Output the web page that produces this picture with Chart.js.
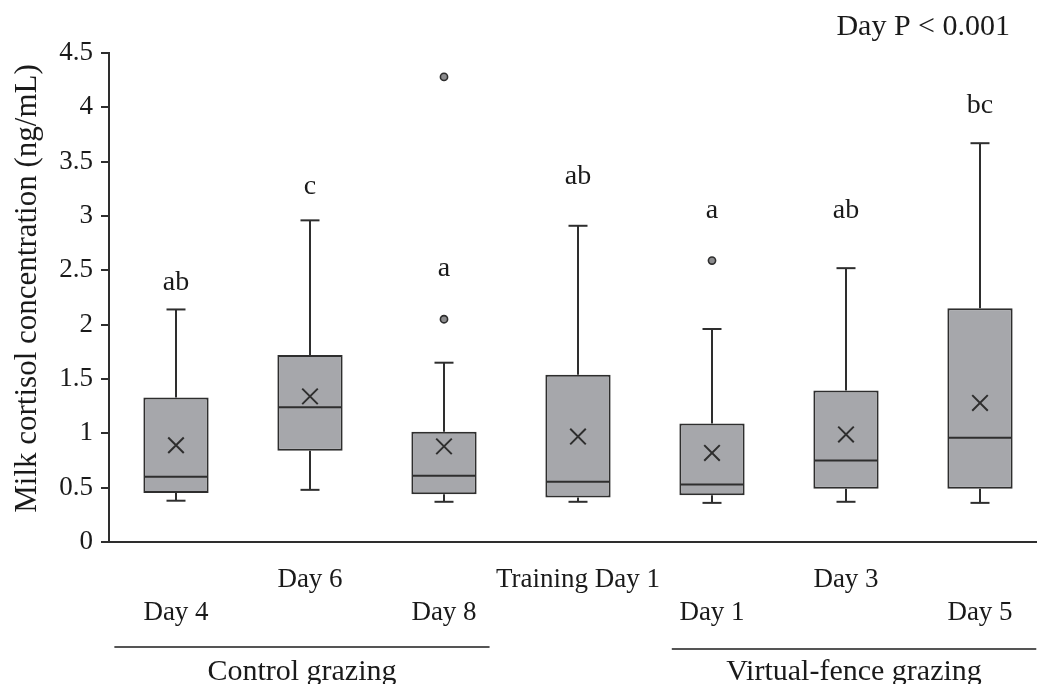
<!DOCTYPE html>
<html>
<head>
<meta charset="utf-8">
<script src="https://cdn.jsdelivr.net/npm/chart.js@4.4.1/dist/chart.umd.min.js"></script>
<style>
  html, body { margin: 0; padding: 0; background: #ffffff; overflow: hidden; }
  #wrap { position: relative; width: 1060px; height: 684px; }
</style>
</head>
<body>
<div id="wrap"><canvas id="chart"></canvas></div>
<script>
// Sampling days (x categories)
const categories = ['Day 4', 'Day 6', 'Day 8', 'Training Day 1', 'Day 1', 'Day 3', 'Day 5'];

// Box-plot summary of milk cortisol (ng/mL) for each day
const minValues    = [0.38, 0.48, 0.37, 0.37, 0.36, 0.37, 0.36];
const q1Values     = [0.45, 0.84, 0.44, 0.41, 0.43, 0.49, 0.49];
const medianValues = [0.60, 1.24, 0.61, 0.555, 0.53, 0.75, 0.96];
const q3Values     = [1.33, 1.72, 1.015, 1.54, 1.09, 1.395, 2.15];
const maxValues    = [2.14, 2.96, 1.65, 2.91, 1.96, 2.52, 3.67];
const meanValues   = [0.89, 1.34, 0.88, 0.97, 0.82, 0.99, 1.28];
const outlierValues = [[], [], [2.05, 4.28], [], [2.59], [], []];

// Post-hoc letters and the concentration level they sit at
const groupLetters = ['ab', 'c', 'a', 'ab', 'a', 'ab', 'bc'];
const letterLevels = [2.39, 3.27, 2.52, 3.36, 3.05, 3.05, 4.02];

// Treatment groups spanning the days (first and last category index)
const treatmentNames = ['Control grazing', 'Virtual-fence grazing'];
const treatmentStart = [0, 4];
const treatmentEnd   = [2, 6];

const statNote = 'Day P < 0.001';
const yAxisTitle = 'Milk cortisol concentration (ng/mL)';

const INK = '#2e2e2e';
const TEXT = '#1a1a1a';
const BOX_FILL = '#a6a7ab';
const SERIF = '"Liberation Serif", "Times New Roman", serif';

const boxRanges = q1Values.map((q, i) => [q, q3Values[i]]);
const outlierPoints = [];
outlierValues.forEach((list, i) => list.forEach(v => outlierPoints.push({ x: categories[i], y: v })));

// Whiskers, caps and median lines drawn right after the boxes
const boxDetails = {
  id: 'boxDetails',
  afterDatasetDraw(chart, args) {
    if (args.meta.type !== 'bar') return;
    const ctx = chart.ctx;
    const x = chart.scales.x, y = chart.scales.y;
    ctx.save();
    ctx.strokeStyle = INK;
    ctx.lineWidth = 2;
    args.meta.data.forEach((bar, i) => {
      const cx = x.getPixelForValue(i);
      const half = bar.width / 2;
      const cap = 9.5;
      const segs = [
        [cx, y.getPixelForValue(q3Values[i]), cx, y.getPixelForValue(maxValues[i])],
        [cx, y.getPixelForValue(q1Values[i]), cx, y.getPixelForValue(minValues[i])],
        [cx - cap, y.getPixelForValue(maxValues[i]), cx + cap, y.getPixelForValue(maxValues[i])],
        [cx - cap, y.getPixelForValue(minValues[i]), cx + cap, y.getPixelForValue(minValues[i])],
        [cx - half + 1, y.getPixelForValue(medianValues[i]), cx + half - 1, y.getPixelForValue(medianValues[i])]
      ];
      segs.forEach(s => {
        ctx.beginPath();
        ctx.moveTo(s[0], s[1]);
        ctx.lineTo(s[2], s[3]);
        ctx.stroke();
      });
    });
    ctx.restore();
  }
};

// Letters, axis title, treatment brackets and the statistics note
const annotations = {
  id: 'annotations',
  afterDraw(chart) {
    const ctx = chart.ctx;
    const x = chart.scales.x, y = chart.scales.y;
    ctx.save();
    ctx.fillStyle = TEXT;

    ctx.font = '28px ' + SERIF;
    ctx.textAlign = 'center';
    ctx.textBaseline = 'middle';
    groupLetters.forEach((t, i) => {
      ctx.fillText(t, x.getPixelForValue(i), y.getPixelForValue(letterLevels[i]));
    });

    ctx.save();
    ctx.translate(28, (chart.chartArea.top + chart.chartArea.bottom) / 2 - 9);
    ctx.rotate(-Math.PI / 2);
    ctx.font = '31px ' + SERIF;
    ctx.fillText(yAxisTitle, 0, 0);
    ctx.restore();

    ctx.font = '30px ' + SERIF;
    ctx.textAlign = 'right';
    ctx.textBaseline = 'alphabetic';
    ctx.fillText(statNote, 1010, 35);

    ctx.strokeStyle = '#555555';
    ctx.lineWidth = 2;
    ctx.textAlign = 'center';
    const spans = [[-0.46, 0.34], [-0.3, 0.42]];
    treatmentNames.forEach((name, g) => {
      const x0 = x.getPixelForValue(treatmentStart[g] + spans[g][0]);
      const x1 = x.getPixelForValue(treatmentEnd[g] + spans[g][1]);
      const lineY = 647 + g * 2;
      ctx.beginPath();
      ctx.moveTo(x0, lineY);
      ctx.lineTo(x1, lineY);
      ctx.stroke();
      ctx.fillText(name, (x0 + x1) / 2, 680);
    });
    ctx.restore();
  }
};

new Chart(document.getElementById('chart'), {
  type: 'bar',
  data: {
    labels: categories,
    datasets: [
      {
        type: 'line',
        label: 'Outliers',
        data: outlierPoints,
        showLine: false,
        pointStyle: 'circle',
        pointRadius: 3.6,
        pointBackgroundColor: '#8c8c8e',
        pointBorderColor: INK,
        pointBorderWidth: 1.6,
        order: 0
      },
      {
        type: 'line',
        label: 'Mean',
        data: meanValues,
        showLine: false,
        pointStyle: 'crossRot',
        pointRadius: 11,
        pointBorderColor: INK,
        pointBorderWidth: 2,
        order: 1
      },
      {
        type: 'bar',
        label: 'Interquartile range',
        data: boxRanges,
        backgroundColor: BOX_FILL,
        borderColor: INK,
        borderWidth: 2,
        borderSkipped: false,
        categoryPercentage: 1,
        barPercentage: 0.487,
        order: 2
      }
    ]
  },
  options: {
    responsive: true,
    maintainAspectRatio: false,
    animation: false,
    devicePixelRatio: 1,
    events: [],
    layout: { padding: { left: 0, top: 53, right: 9.5, bottom: 0 } },
    plugins: { legend: { display: false }, tooltip: { enabled: false }, title: { display: false } },
    scales: {
      x: {
        offset: true,
        grid: { display: true, drawOnChartArea: false, drawTicks: false },
        border: { display: true, color: INK, width: 2 },
        ticks: {
          autoSkip: false,
          maxRotation: 0,
          minRotation: 0,
          padding: 22,
          color: TEXT,
          font: { family: SERIF, size: 27 },
          callback: (v, i) => (i % 2 ? [categories[i], ''] : ['', categories[i]])
        },
        afterFit: s => { s.height = 142; }
      },
      y: {
        min: 0,
        max: 4.5,
        grid: { display: true, drawOnChartArea: false, drawTicks: true, tickLength: 8, color: INK, lineWidth: 2 },
        border: { display: true, color: INK, width: 2 },
        ticks: {
          stepSize: 0.5,
          padding: 8,
          color: TEXT,
          font: { family: SERIF, size: 27 },
          callback: v => String(Number(v.toFixed(1)))
        },
        afterFit: s => { s.width = 109; }
      }
    }
  },
  plugins: [boxDetails, annotations]
});
</script>
</body>
</html>
